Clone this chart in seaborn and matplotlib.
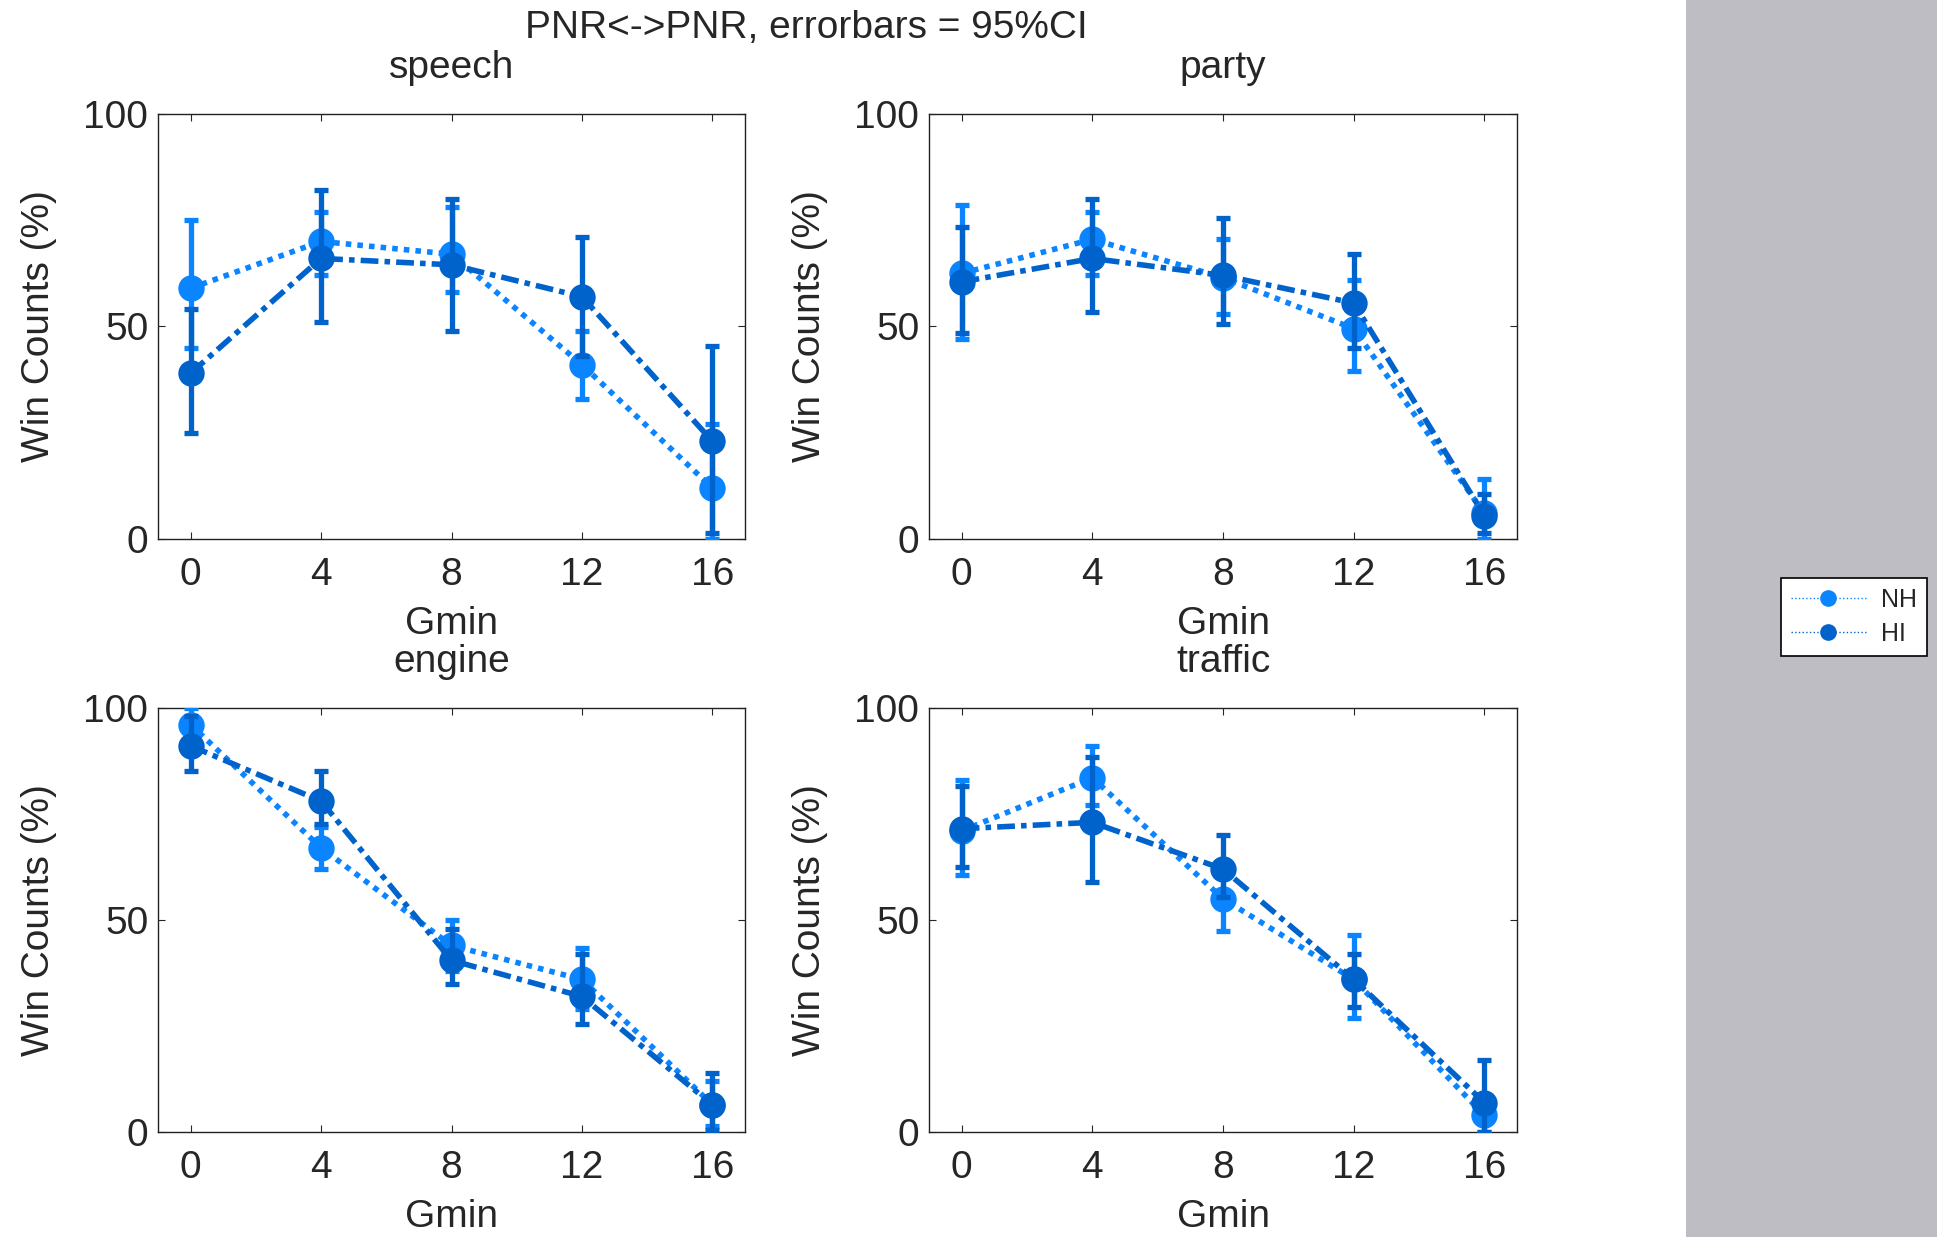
import numpy as np
import pandas as pd
import matplotlib
matplotlib.use('Agg')
import matplotlib.pyplot as plt
from matplotlib.lines import Line2D
from matplotlib.patches import Rectangle
import seaborn as sns

# --- data ---
gmin = [0, 4, 8, 12, 16]
conditions = ['speech', 'party', 'engine', 'traffic']
groups = ['NH', 'HI']

speech_nh = [59, 70, 67, 41, 12]
speech_nh_lo = [45, 62, 58, 33, 0]
speech_nh_hi = [75, 77, 78, 49, 27]
speech_hi = [39, 66, 64.5, 57, 23]
speech_hi_lo = [25, 51, 49, 43, 1.5]
speech_hi_hi = [54, 82, 80, 71, 45.5]

party_nh = [62.5, 70.5, 61.5, 49.5, 6]
party_nh_lo = [47, 62, 53, 39.5, 0]
party_nh_hi = [78.5, 77, 70.5, 61, 14]
party_hi = [60.5, 66, 62, 55.5, 5.5]
party_hi_lo = [48.5, 53.5, 50.5, 45, 1.5]
party_hi_hi = [73.5, 80, 75.5, 67, 10.5]

engine_nh = [96, 67, 44, 36, 6.5]
engine_nh_lo = [89, 62, 38, 29, 1.5]
engine_nh_hi = [100, 72, 50, 43.5, 12]
engine_hi = [91, 78, 40.5, 32, 6.5]
engine_hi_lo = [85, 72.5, 35, 25.5, 0.5]
engine_hi_hi = [98, 85, 48, 42, 14]

traffic_nh = [71, 83.5, 55, 36, 4]
traffic_nh_lo = [60.5, 77, 47.5, 27, 0]
traffic_nh_hi = [83, 91, 61, 46.5, 8]
traffic_hi = [71.5, 73, 62, 36, 7]
traffic_hi_lo = [62.5, 59, 55.5, 29.5, 0]
traffic_hi_hi = [81.5, 88.5, 70, 42, 17]

series = {
    ('speech', 'NH'): (speech_nh, speech_nh_lo, speech_nh_hi),
    ('speech', 'HI'): (speech_hi, speech_hi_lo, speech_hi_hi),
    ('party', 'NH'): (party_nh, party_nh_lo, party_nh_hi),
    ('party', 'HI'): (party_hi, party_hi_lo, party_hi_hi),
    ('engine', 'NH'): (engine_nh, engine_nh_lo, engine_nh_hi),
    ('engine', 'HI'): (engine_hi, engine_hi_lo, engine_hi_hi),
    ('traffic', 'NH'): (traffic_nh, traffic_nh_lo, traffic_nh_hi),
    ('traffic', 'HI'): (traffic_hi, traffic_hi_lo, traffic_hi_hi),
}

rows = []
for (cond, grp), (vals, lo, hi) in series.items():
    for g, v, l, h in zip(gmin, vals, lo, hi):
        rows.append({'condition': cond, 'group': grp, 'Gmin': g,
                     'win': v, 'lo': l, 'hi': h})
df = pd.DataFrame(rows)

# --- style ---
sns.set_style('ticks')
plt.rcParams['font.family'] = ['Liberation Sans', 'DejaVu Sans']
plt.rcParams['font.size'] = 28
plt.rcParams['axes.linewidth'] = 1.0

colors = {'NH': '#0a84ff', 'HI': '#0063cc'}
linestyles = {'NH': (0, (1.0, 1.1)), 'HI': (0, (3.2, 1.1, 1.0, 1.1))}
zo = {'NH': 2, 'HI': 4}

fig = plt.figure(figsize=(19.37, 12.37), dpi=100)
# grey panel on the right
fig.patches.append(Rectangle((0.8704, 0), 0.13, 1, transform=fig.transFigure,
                             facecolor='#bdbdc3', edgecolor='none', zorder=0))

positions = [
    [0.0816, 0.5643, 0.3030, 0.3436],
    [0.4796, 0.5643, 0.3036, 0.3436],
    [0.0816, 0.0846, 0.3030, 0.3433],
    [0.4796, 0.0846, 0.3036, 0.3433],
]

for cond, pos in zip(conditions, positions):
    ax = fig.add_axes(pos)
    for grp in groups:
        sub = df[(df['condition'] == cond) & (df['group'] == grp)]
        sns.lineplot(data=sub, x='Gmin', y='win', ax=ax, color=colors[grp],
                     linestyle=linestyles[grp], lw=4, marker='o', ms=19,
                     mew=0, errorbar=None, legend=False, zorder=zo[grp])
        ax.errorbar(sub['Gmin'], sub['win'],
                    yerr=[sub['win'] - sub['lo'], sub['hi'] - sub['win']],
                    fmt='none', ecolor=colors[grp], elinewidth=3.8,
                    capsize=5, capthick=3.8, zorder=zo[grp] + 1)
    ax.set_xlim(-1, 17)
    ax.set_ylim(0, 100)
    ax.set_xticks(gmin)
    ax.set_yticks([0, 50, 100])
    ax.tick_params(direction='in', top=True, right=True, length=5, width=0.8,
                   labelsize=28)
    ax.tick_params(axis='x', pad=13)
    ax.tick_params(axis='y', pad=7)
    for sp in ax.spines.values():
        sp.set_color('#222222')
        sp.set_visible(True)
    ax.set_xlabel('Gmin', fontsize=28, labelpad=9)
    ax.set_ylabel('Win Counts (%)', fontsize=28, labelpad=19)
    ax.set_title(cond, fontsize=28, pad=26)

fig.text(0.4165, 0.977, 'PNR<->PNR, errorbars = 95%CI', ha='center', va='center',
         fontsize=28)

handles = [Line2D([0], [0], color=colors[g], lw=1, linestyle=':', marker='o',
                  ms=12, mew=0) for g in groups]
leg = fig.legend(handles, groups, loc='center', bbox_to_anchor=(0.957, 0.5012),
                 fontsize=18, frameon=True, fancybox=False, handlelength=3.0,
                 labelspacing=0.4, borderpad=0.4, handletextpad=0.6)
leg.get_frame().set_edgecolor('black')
leg.get_frame().set_linewidth(1.2)
leg.get_frame().set_facecolor('white')
leg.get_frame().set_alpha(1)

fig.savefig('out.png', dpi=100)
